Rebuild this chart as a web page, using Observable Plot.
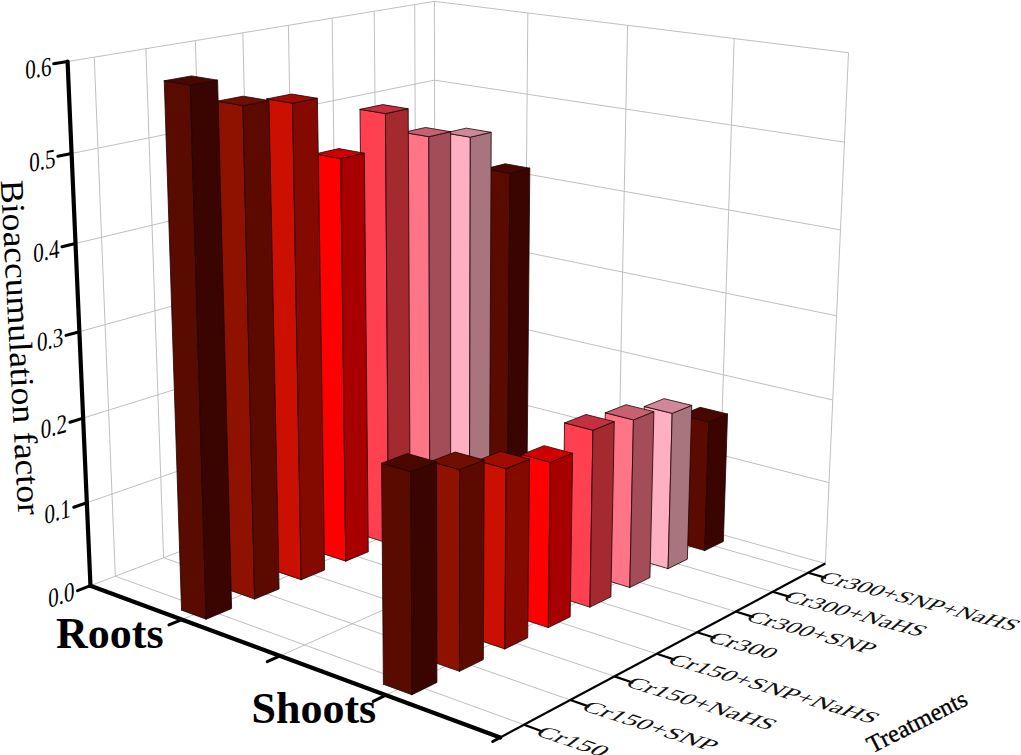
<!DOCTYPE html>
<html>
<head>
<meta charset="utf-8">
<style>html,body{margin:0;padding:0;background:#fff}svg{display:block}</style>
<script src="https://cdn.jsdelivr.net/npm/d3@7"></script>
<script src="https://cdn.jsdelivr.net/npm/@observablehq/plot@0.6"></script>
</head>
<body>
<div id="chart"></div>
<script>
// ---------- data ----------
const treatments = ["Cr150","Cr150+SNP","Cr150+NaHS","Cr150+SNP+NaHS","Cr300","Cr300+SNP","Cr300+NaHS","Cr300+SNP+NaHS"];
const organs = ["Roots","Shoots"];
const rootValues  = [0.592,0.56,0.552,0.479,0.519,0.481,0.469,0.413];
const shootValues = [0.24,0.222,0.203,0.19,0.207,0.2,0.189,0.16];
const valueTicks = [0,0.1,0.2,0.3,0.4,0.5,0.6];
const valueMax = 0.6;
const frontColors = ["#5a0b00","#8f1200","#cb0f00","#ff0000","#ff4050","#ff7588","#ffb0c0","#5a0b00"];
const sideColors  = ["#3a0500","#5c0a00","#840a00","#a80000","#a52a30","#a34d58","#a8747e","#3a0500"];
const topColors   = ["#4a0700","#700e00","#a00c00","#d00000","#c53040","#c96070","#d08898","#4a0700"];

// ---------- 3D view: box position (r, t, h in 0..1) -> picture position ----------
const calibration = [
  [0,0,0,90,586],[1,0,0,499,735],[1,1,0,825,563],[0,1,0,434,452],
  [0,0,1,68,60],[0,1,1,434,1],[1,1,1,848,52],
  [.25,0,0,182,620],[.5,0,0,282,655],[.75,0,0,383,697],
  [1,.0625,0,523,723],[1,.4375,0,657,654],[1,.9375,0,808,573],
  [.25,1,1,527,13],[.5,1,1,627,25],[.75,1,1,734,38],
  [1,1,5/6,844,142],[1,1,4/6,840,229],[0,0,5/6,70,153],[0,1,5/6,434,80]
];
function solve(A,b){
  const n=b.length,M=A.map((row,i)=>[...row,b[i]]);
  for(let i=0;i<n;i++){
    let p=i;for(let k=i+1;k<n;k++)if(Math.abs(M[k][i])>Math.abs(M[p][i]))p=k;
    [M[i],M[p]]=[M[p],M[i]];
    for(let k=i+1;k<n;k++){const f=M[k][i]/M[i][i];for(let j=i;j<=n;j++)M[k][j]-=f*M[i][j];}
  }
  const x=new Array(n).fill(0);
  for(let i=n-1;i>=0;i--){let s=M[i][n];for(let j=i+1;j<n;j++)s-=M[i][j]*x[j];x[i]=s/M[i][i];}
  return x;
}
const camera=(()=>{
  const rows=[],rhs=[];
  for(const [r,t,h,px,py] of calibration){
    const X=px/1000,Y=py/1000;
    rows.push([r,t,h,1,0,0,0,0,-X*r,-X*t,-X*h]);rhs.push(X);
    rows.push([0,0,0,0,r,t,h,1,-Y*r,-Y*t,-Y*h]);rhs.push(Y);
  }
  const n=11,AtA=d3.range(n).map(()=>new Array(n).fill(0)),Atb=new Array(n).fill(0);
  rows.forEach((row,k)=>{for(let i=0;i<n;i++){Atb[i]+=row[i]*rhs[k];for(let j=0;j<n;j++)AtA[i][j]+=row[i]*row[j];}});
  return solve(AtA,Atb);
})();
function project(r,t,h){
  const c=camera,w=c[8]*r+c[9]*t+c[10]*h+1;
  return [1000*(c[0]*r+c[1]*t+c[2]*h+c[3])/w,1000*(c[4]*r+c[5]*t+c[6]*h+c[7])/w];
}
const H=v=>v/valueMax;
const tickT=i=>(i+.5)/treatments.length;
const organR=[.25,.75];
const midR=[.25,.5,.75];
const barHalf=.0325;

// ---------- segments ----------
function seg(a,b){const p=project(...a),q=project(...b);return {x1:p[0],y1:p[1],x2:q[0],y2:q[1]};}
const grid=[];
for(const v of valueTicks.slice(1)){grid.push(seg([0,0,H(v)],[0,1,H(v)]));grid.push(seg([0,1,H(v)],[1,1,H(v)]));}
treatments.forEach((_,i)=>{grid.push(seg([0,tickT(i),0],[0,tickT(i),1]));grid.push(seg([0,tickT(i),0],[1,tickT(i),0]));});
for(const r of midR){grid.push(seg([r,1,0],[r,1,1]));grid.push(seg([r,0,0],[r,1,0]));}
grid.push(seg([0,1,0],[0,1,1]),seg([1,1,0],[1,1,1]),seg([0,0,0],[0,1,0]),seg([0,1,0],[1,1,0]));

const tickLen=.032;
const heavyAxes=[seg([0,0,0],[0,0,1]),seg([0,0,0],[1,0,0])];
const heavyTicks=[
  ...valueTicks.map(v=>seg([0,0,H(v)],[0,-tickLen,H(v)])),
  ...midR.map(r=>seg([r,0,0],[r,-tickLen,0])),
  seg([1,0,0],[1,-tickLen*.6,0])
];
const lightAxes=[seg([1,0,0],[1,1,0]),...treatments.map((_,i)=>seg([1,tickT(i),0],[1.04,tickT(i),0]))];

// ---------- bar faces, back to front ----------
const faces=[];
function addFace(id,fill,corners){
  [...corners,corners[0]].forEach(c=>{const [x,y]=project(...c);faces.push({id,fill,x,y});});
}
[rootValues,shootValues].forEach((values,g)=>{
  const rc=organR[g];
  for(let i=treatments.length-1;i>=0;i--){
    const tc=tickT(i),h=H(values[i]);
    const r0=rc-barHalf,r1=rc+barHalf,t0=tc-barHalf,t1=tc+barHalf;
    addFace(`${g}-${i}-front`,frontColors[i],[[r0,t0,0],[r1,t0,0],[r1,t0,h],[r0,t0,h]]);
    addFace(`${g}-${i}-side`,sideColors[i],[[r1,t0,0],[r1,t1,0],[r1,t1,h],[r1,t0,h]]);
    addFace(`${g}-${i}-top`,topColors[i],[[r0,t0,h],[r1,t0,h],[r1,t1,h],[r0,t1,h]]);
  }
});

// ---------- labels ----------
const valueLabels=valueTicks.map(v=>{
  const [x,y]=project(0,0,H(v));
  return {x,y,label:v.toFixed(1)};
});
const treatLabels=treatments.map((label,i)=>{
  const [x,y]=project(1.05,tickT(i),0),[x2,y2]=project(1.15,tickT(i),0);
  return {x,y,label,rotate:Math.atan2(y2-y,x2-x)*180/Math.PI-1.5};
});
const organLabels=organs.map((label,g)=>{const [x,y]=project(organR[g],0,0);return {x,y,label};});
const [axX,axY]=project(0,0,.47);
const [trX,trY]=project(1,.5,0);

const serif="Liberation Serif";
const plot=Plot.plot({
  width:1021,height:755,margin:0,
  x:{domain:[0,1021],range:[0,1021],axis:null},
  y:{domain:[0,755],range:[0,755],axis:null},
  color:{type:"identity"},
  style:{background:"#fff",fontFamily:serif},
  marks:[
    Plot.link(grid,{x1:"x1",y1:"y1",x2:"x2",y2:"y2",stroke:"#bfbfbf",strokeWidth:1}),
    Plot.line(faces,{x:"x",y:"y",z:"id",fill:"fill",stroke:"#1c0404",strokeWidth:1,strokeOpacity:.8,strokeLinejoin:"round"}),
    Plot.link(lightAxes,{x1:"x1",y1:"y1",x2:"x2",y2:"y2",stroke:"#000",strokeWidth:2.2}),
    Plot.link(heavyTicks,{x1:"x1",y1:"y1",x2:"x2",y2:"y2",stroke:"#000",strokeWidth:3,strokeLinecap:"round"}),
    Plot.link(heavyAxes,{x1:"x1",y1:"y1",x2:"x2",y2:"y2",stroke:"#000",strokeWidth:4.2,strokeLinecap:"round"}),
    Plot.text(valueLabels,{x:"x",y:"y",text:"label",textAnchor:"end",dx:-16,dy:5,fontSize:27,fontFamily:serif,fill:"#000"}),
    Plot.text(treatLabels,{x:"x",y:"y",text:"label",rotate:"rotate",textAnchor:"start",lineAnchor:"middle",dx:-9,dy:-3,fontSize:22,fontFamily:serif,fill:"#111"}),
    Plot.text(organLabels,{x:"x",y:"y",text:"label",textAnchor:"middle",dx:-72,dy:14,fontSize:44,fontWeight:700,fontFamily:serif,fill:"#000"}),
    Plot.text(["Bioaccumulation factor"],{x:[axX],y:[axY],text:d=>d,rotate:87,textAnchor:"middle",dx:-60,dy:0,fontSize:33,fontFamily:serif,fill:"#000"}),
    Plot.text(["Treatments"],{x:[trX],y:[trY],text:d=>d,rotate:-27,textAnchor:"middle",dx:240,dy:79,fontSize:24.5,fontFamily:serif,fill:"#000",stroke:"#000",strokeWidth:.35})
  ]
});

// labels lie in the planes of the box: shear them accordingly
plot.querySelectorAll("text").forEach(el=>{
  const s=el.textContent,base=el.getAttribute("transform")||"";
  const vi=valueLabels.findIndex(d=>d.label===s);
  if(vi>=0){
    const h=H(valueTicks[vi]),a=project(0,0,h),b=project(0,.1,h);
    const ang=Math.atan2(b[1]-a[1],b[0]-a[0])*180/Math.PI;
    el.setAttribute("transform",`${base} skewY(${ang*.9}) scale(.78,1)`);
  }
  const ti=treatments.indexOf(s);
  if(ti>=0){
    el.setAttribute("transform",`${base} skewX(-34) scale(${1.29-.018*ti},.8)`);
  }
  if(s==="Bioaccumulation factor"){
    el.setAttribute("transform",`${base} scale(1.08,1)`);
  }
});
document.getElementById("chart").append(plot);
</script>
</body>
</html>
